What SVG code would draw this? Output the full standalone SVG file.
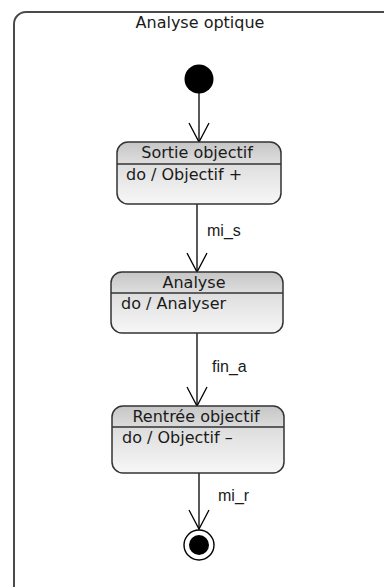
<svg xmlns="http://www.w3.org/2000/svg" width="384" height="587" viewBox="0 0 384 587">
<defs>
<linearGradient id="stateGrad" x1="0" y1="0" x2="0" y2="1">
<stop offset="0" stop-color="#c6c6c6"/>
<stop offset="0.35" stop-color="#dedede"/>
<stop offset="1" stop-color="#f7f7f7"/>
</linearGradient>
<marker id="openArrow" markerUnits="userSpaceOnUse" markerWidth="26" markerHeight="26" viewBox="-22 -13 26 26" refX="0" refY="0" orient="auto">
<path d="M -19 -10 L 0 0 L -19 10" fill="none" stroke="#000" stroke-width="1.3"/>
</marker>
<style>
.frame{fill:none;stroke:#4a4a4a;stroke-width:2}
.state rect{fill:url(#stateGrad);stroke:#333;stroke-width:1.5}
.state line{stroke:#333;stroke-width:1.5}
.title{font-family:"DejaVu Sans",sans-serif;font-size:16px;fill:#1a1a1a;text-anchor:middle}
.body{font-family:"DejaVu Sans",sans-serif;font-size:16px;fill:#1a1a1a}
.label{font-family:"Liberation Sans",Arial,sans-serif;font-size:16px;fill:#1a1a1a}
.edge{stroke:#000;stroke-width:1.3;fill:none;marker-end:url(#openArrow)}
</style>
</defs>
<g id="frame">
<path class="frame" d="M 14 600 L 14 24 A 12 12 0 0 1 26 12 L 400 12"/>
<text x="200" y="28" class="title">Analyse optique</text>
</g>
<g id="connectors">
<line class="edge" x1="199" y1="93" x2="199" y2="142"/>
<line class="edge" x1="197" y1="204" x2="197" y2="272"/>
<text class="label" x="207" y="236">mi_s</text>
<line class="edge" x1="197" y1="333" x2="197" y2="406"/>
<text class="label" x="212" y="372">fin_a</text>
<line class="edge" x1="199" y1="473" x2="199" y2="529"/>
<text class="label" x="218" y="501">mi_r</text>
</g>
<g id="initial">
<circle cx="199" cy="79" r="14.5" fill="#000"/>
</g>
<g id="sortie" class="state">
<rect x="117" y="142" width="164" height="62" rx="11"/>
<line x1="117" y1="164" x2="281" y2="164"/>
<text x="197" y="158" class="title">Sortie objectif</text>
<text x="126" y="180" class="body">do / Objectif +</text>
</g>
<g id="analyse" class="state">
<rect x="111" y="272" width="172" height="61" rx="11"/>
<line x1="111" y1="293" x2="283" y2="293"/>
<text x="194" y="288" class="title">Analyse</text>
<text x="121" y="309" class="body">do / Analyser</text>
</g>
<g id="rentree" class="state">
<rect x="112" y="406" width="172" height="67" rx="11"/>
<line x1="112" y1="427" x2="284" y2="427"/>
<text x="196" y="422" class="title">Rentrée objectif</text>
<text x="122" y="443" class="body">do / Objectif –</text>
</g>
<g id="final">
<circle cx="199" cy="545" r="15" fill="#fff" stroke="#000" stroke-width="1.4"/>
<circle cx="199" cy="545" r="10" fill="#000"/>
</g>
</svg>
